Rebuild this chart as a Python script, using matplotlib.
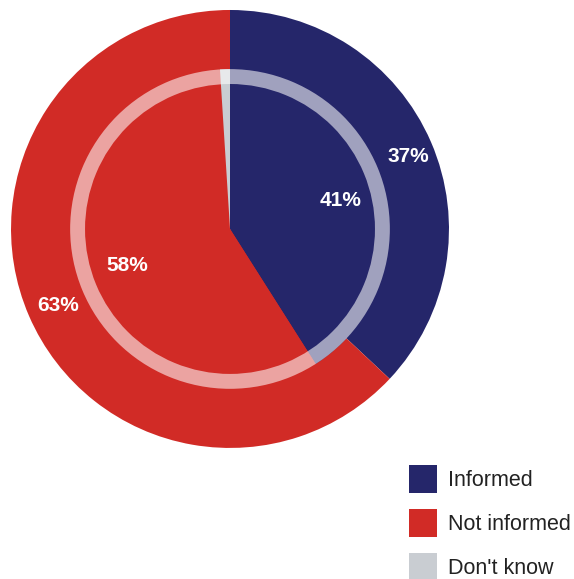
import matplotlib.pyplot as plt
from matplotlib.patches import Patch

plt.rcParams['font.family'] = ['Liberation Sans', 'DejaVu Sans']

categories = ["Informed", "Not informed", "Don't know"]
outer_values = [37, 63, 0]
inner_values = [41, 58, 1]
colors = ["#25266a", "#d12b26", "#c9cdd2"]

# label positions (x, y) in pie units
outer_pos = [(0.815, 0.333), (-0.785, -0.35)]
inner_pos = [(0.505, 0.128), (-0.47, -0.165)]

fig = plt.figure(figsize=(5.74, 5.79), dpi=100)
ax = fig.add_axes([0.0192, 0.2263, 0.763, 0.7565])
ax.set_xlim(-1, 1)
ax.set_ylim(-1, 1)
ax.set_aspect("equal")
ax.axis("off")

ax.pie(outer_values[:2], colors=colors[:2], radius=1.0, startangle=90,
       counterclock=False, wedgeprops=dict(linewidth=0))
r_in = 0.73
ax.pie(inner_values, colors=colors, radius=r_in, startangle=90,
       counterclock=False, wedgeprops=dict(linewidth=0))
# pale band along the rim of the inner pie
ax.pie([1], colors=["white"], radius=r_in, startangle=90,
       wedgeprops=dict(width=0.068, linewidth=0, alpha=0.57))

ax.set_xlim(-1, 1)
ax.set_ylim(-1, 1)

for v, (x, y) in zip(outer_values[:2], outer_pos):
    ax.text(x, y, f"{v}%", color="white", fontsize=15, fontweight="bold",
            ha="center", va="center")
for v, (x, y) in zip(inner_values[:2], inner_pos):
    ax.text(x, y, f"{v}%", color="white", fontsize=15, fontweight="bold",
            ha="center", va="center")

handles = [Patch(facecolor=c, edgecolor="none") for c in colors]
fig.legend(handles, categories, loc="upper left",
           bbox_to_anchor=(409 / 574, 1 - 465 / 579), frameon=False,
           fontsize=15.5, handlelength=1.3, handleheight=1.63,
           labelspacing=0.74, handletextpad=0.5, borderpad=0,
           borderaxespad=0, labelcolor="#222222")

fig.savefig("out.png", dpi=100)
